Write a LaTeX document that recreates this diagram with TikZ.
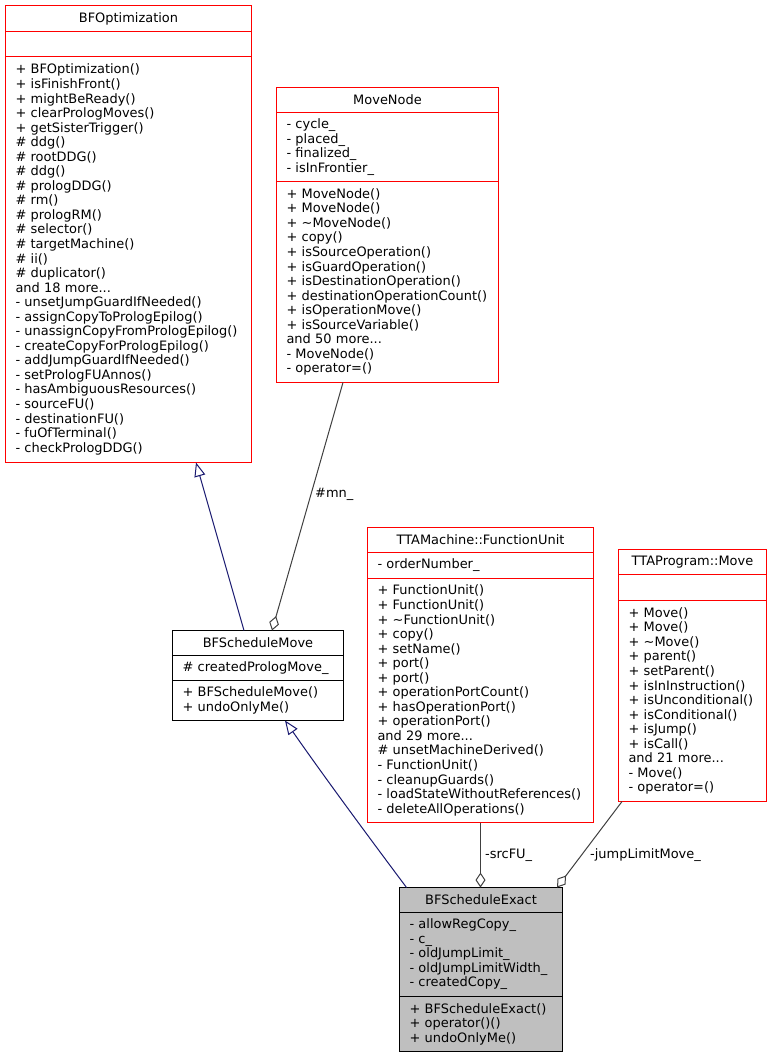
\documentclass[tikz,border=0pt]{standalone}
\usepackage{fontspec}
\setmainfont{DejaVu Sans}
\usetikzlibrary{positioning,arrows.meta}

\definecolor{inhblue}{HTML}{191970}
\definecolor{aggray}{HTML}{404040}
\definecolor{curgray}{HTML}{BFBFBF}
\definecolor{boxred}{HTML}{FF0000}

\tikzset{
  box/.style={draw=boxred, line width=1bp, outer sep=0pt, inner xsep=10bp, inner ysep=2bp,
    font=\fontsize{13}{14.6}\selectfont},
  head/.style={box, align=center, minimum height=25bp},
  part/.style={box, align=left},
  inh/.style={draw=inhblue, line width=1bp, -{Triangle[length=14bp, width=11bp, fill=white]}},
  agg/.style={draw=aggray, line width=1bp, -{Diamond[length=15bp, width=10bp, fill=white]}},
  lbl/.style={font=\fontsize{13}{14.6}\selectfont, inner sep=0pt}
}

\begin{document}
\begin{tikzpicture}[x=1bp, y=-1bp]
\fill[white] (0,0) rectangle (772,1057);
\useasboundingbox (0,0) rectangle (772,1057);

%base class
\node[head, text width=226bp, minimum height=26bp, anchor=north west] (opt) at (5.5,5.5) {BFOptimization};
\node[part, text width=226bp, minimum height=25bp, below=0pt of opt] (opt-a) {};
\node[part, text width=226bp, minimum height=406bp, below=0pt of opt-a] (opt-m) {+ BFOptimization()\\
+ isFinishFront()\\ + mightBeReady()\\ + clearPrologMoves()\\ + getSisterTrigger()\\
\# ddg()\\ \# rootDDG()\\ \# ddg()\\ \# prologDDG()\\ \# rm()\\ \# prologRM()\\ \# selector()\\
\# targetMachine()\\ \# ii()\\ \# duplicator()\\ and 18 more...\\
- unsetJumpGuardIfNeeded()\\ - assignCopyToPrologEpilog()\\ - unassignCopyFromPrologEpilog()\\
- createCopyForPrologEpilog()\\ - addJumpGuardIfNeeded()\\ - setPrologFUAnnos()\\
- hasAmbiguousResources()\\ - sourceFU()\\ - destinationFU()\\ - fuOfTerminal()\\ - checkPrologDDG()};

%move node
\node[head, text width=202bp, anchor=north west] (mn) at (276.5,87.5) {MoveNode};
\node[part, text width=202bp, minimum height=69bp, below=0pt of mn] (mn-a) {- cycle\_\\
- placed\_\\ - finalized\_\\ - isInFrontier\_};
\node[part, text width=202bp, minimum height=201bp, below=0pt of mn-a] (mn-m) {+ MoveNode()\\
+ MoveNode()\\ + \textasciitilde MoveNode()\\ + copy()\\ + isSourceOperation()\\
+ isGuardOperation()\\ + isDestinationOperation()\\ + destinationOperationCount()\\
+ isOperationMove()\\ + isSourceVariable()\\ and 50 more...\\ - MoveNode()\\ - operator=()};

%function unit
\node[head, text width=206bp, anchor=north west] (fu) at (367.5,527.5) {TTAMachine::FunctionUnit};
\node[part, text width=206bp, minimum height=26bp, below=0pt of fu] (fu-a) {- orderNumber\_};
\node[part, text width=206bp, minimum height=244bp, below=0pt of fu-a] (fu-m) {+ FunctionUnit()\\
+ FunctionUnit()\\ + \textasciitilde FunctionUnit()\\ + copy()\\ + setName()\\ + port()\\ + port()\\
+ operationPortCount()\\ + hasOperationPort()\\ + operationPort()\\ and 29 more...\\
\# unsetMachineDerived()\\ - FunctionUnit()\\ - cleanupGuards()\\
- loadStateWithoutReferences()\\ - deleteAllOperations()};

%program move
\node[head, text width=128bp, anchor=north west] (mv) at (618.5,549.5) {TTAProgram::Move};
\node[part, text width=128bp, minimum height=26bp, below=0pt of mv] (mv-a) {};
\node[part, text width=128bp, minimum height=201bp, below=0pt of mv-a] (mv-m) {+ Move()\\
+ Move()\\ + \textasciitilde Move()\\ + parent()\\ + setParent()\\ + isInInstruction()\\
+ isUnconditional()\\ + isConditional()\\ + isJump()\\ + isCall()\\ and 21 more...\\
- Move()\\ - operator=()};

%schedule move
\node[head, draw=black, text width=151bp, anchor=north west] (sm) at (172.5,630.5) {BFScheduleMove};
\node[part, draw=black, text width=151bp, minimum height=25bp, below=0pt of sm] (sm-a) {\# createdPrologMove\_};
\node[part, draw=black, text width=151bp, minimum height=40bp, below=0pt of sm-a] (sm-m) {+ BFScheduleMove()\\
+ undoOnlyMe()};

%schedule exact
\node[head, draw=black, fill=curgray, text width=143bp, anchor=north west] (se) at (399.5,887.5) {BFScheduleExact};
\node[part, draw=black, fill=curgray, text width=143bp, minimum height=84bp, below=0pt of se] (se-a) {- allowRegCopy\_\\
- c\_\\ - oldJumpLimit\_\\ - oldJumpLimitWidth\_\\ - createdCopy\_};
\node[part, draw=black, fill=curgray, text width=143bp, minimum height=55bp, below=0pt of se-a] (se-m) {+ BFScheduleExact()\\
+ operator()()\\ + undoOnlyMe()};

%edges
\draw[inh] ([xshift=-14bp]sm.north) -- ([xshift=67.5bp]opt-m.south);
\draw[inh] ([xshift=-74.5bp]se.north) .. controls (380,852) and (330,785) .. ([xshift=27bp]sm-m.south);
\draw[agg] ([xshift=-44.5bp]mn-m.south) -- ([xshift=14bp]sm.north);
\draw[agg] (fu-m.south) -- (fu-m.south |- se.north);
\draw[agg] ([xshift=-70.5bp]mv-m.south) -- ([xshift=76bp]se.north);

%labels
\node[lbl, anchor=west] (mnlbl) at (315,494) {\#mn\_};
\node[lbl, anchor=west] (fulbl) at (485,855) {-srcFU\_};
\node[lbl, anchor=west] (mvlbl) at (590,855) {-jumpLimitMove\_};
\end{tikzpicture}
\end{document}
